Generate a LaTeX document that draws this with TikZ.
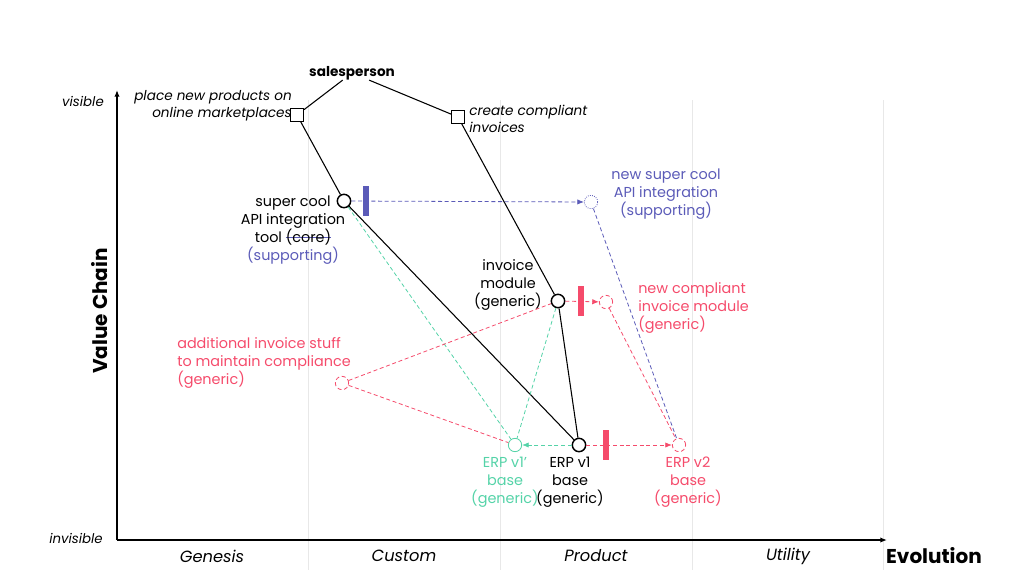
\documentclass[tikz,border=0pt]{standalone}
\usepackage{fontspec}
\setmainfont{Poppins}
\usetikzlibrary{arrows.meta}
\definecolor{supporting}{HTML}{5B5BB8}
\definecolor{generic}{HTML}{F54B6B}
\definecolor{erpgreen}{HTML}{55D3A8}
\definecolor{gridgray}{HTML}{E8E8E8}
\newlength{\strikelen}
\newcommand{\corestrike}[1]{\settowidth{\strikelen}{#1}\rlap{\textcolor{supporting}{\rule[0.55ex]{\strikelen}{0.7pt}}}#1}
\tikzset{
    component/.style = {circle, draw, line width=1.1pt, fill=white, minimum size=10pt, inner sep=0pt},
    ghost/.style = {circle, draw, line width=0.6pt, fill=white, minimum size=10pt, inner sep=0pt},
    need/.style = {rectangle, draw, line width=1pt, fill=white, minimum size=9.5pt, inner sep=0pt},
    label-text/.style = {font=\fontsize{10.8}{13.5}\selectfont, align=center, inner sep=0pt},
    need-text/.style = {font=\fontsize{10.2}{13}\selectfont\itshape, inner sep=0pt},
    axis-text/.style = {font=\fontsize{10}{13.5}\selectfont\itshape, inner sep=0pt},
    stage-text/.style = {font=\fontsize{12.2}{14}\selectfont\itshape, inner sep=0pt},
    axis-title/.style = {font=\fontsize{15}{17}\selectfont\bfseries, inner sep=0pt},
    inertia/.style = {rectangle, inner sep=0pt, minimum width=4.5pt, minimum height=22pt},
    link/.style = {line width=0.8pt},
    move/.style = {dash pattern=on 3pt off 2pt, line width=0.6pt},
    tip/.style = {-{Latex[length=5pt,width=4pt]}},
}

\begin{document}
\begin{tikzpicture}[x=0.75pt, y=-0.75pt]
\useasboundingbox (0,0) rectangle (1024,576);
% evolution stages
\foreach \x in {308,500,692,883}
    \draw[gridgray, line width=0.6pt] (\x,100) -- (\x,570);
\node[stage-text] (genesis) at (212,556) {Genesis};
\node[stage-text] (custom) at (404,556) {Custom};
\node[stage-text] (product) at (596,556) {Product};
\node[stage-text] (utility) at (788,556) {Utility};

% axes
\coordinate (origin) at (117,540);
\coordinate (top) at (117,90);
\coordinate (right) at (887,540);
\draw[line width=1pt, tip] (origin) -- (top);
\draw[line width=1pt, tip] (origin) -- (right);
\node[axis-title] (evolution) at (934,556) {Evolution};
\node[axis-title, rotate=90] (valuechain) at (100,311) {Value Chain};
\node[axis-text] (visible) at (83,101) {visible};
\node[axis-text] (invisible) at (76,538) {invisible};

% user and needs
\node[label-text, font=\fontsize{10.2}{13.5}\selectfont\bfseries] (sales) at (352,73) {salesperson};
\node[need] (place) at (297,115) {};
\node[need] (create) at (458,117) {};
\node[need-text, align=right, anchor=east] (placetext) at (292,106) {place new products on\\online marketplaces};
\node[need-text, align=left, anchor=west] (createtext) at (469,119) {create compliant\\invoices};

% components
\node[component] (api) at (344,201) {};
\node[component] (invoice) at (558,301) {};
\node[component] (erp) at (579,445) {};
\node[ghost, draw=erpgreen] (erpalt) at (515,445) {};
\node[ghost, draw=supporting, densely dotted] (apinew) at (591,202) {};
\node[ghost, draw=generic, densely dashed] (invnew) at (606,302) {};
\node[ghost, draw=generic, densely dashed] (extra) at (342,383) {};
\node[ghost, draw=generic, densely dashed] (erpnew) at (679,445) {};

\node[label-text] (apitext) at (293,230) {super cool\\API integration\\tool \corestrike{(core)}\\\textcolor{supporting}{(supporting)}};
\node[label-text, text=supporting] (apinewtext) at (666,194) {new super cool\\API integration\\(supporting)};
\node[label-text] (invoicetext) at (508,285) {invoice\\module\\(generic)};
\node[label-text, text=generic, align=left, anchor=west] (invnewtext) at (638,308) {new compliant\\invoice module\\(generic)};
\node[label-text, text=generic, align=left, anchor=west] (extratext) at (177,363) {additional invoice stuff\\to maintain compliance\\(generic)};
\node[label-text] (erptext) at (570,482) {ERP v1\\base\\(generic)};
\node[label-text, text=erpgreen] (erpalttext) at (505,482) {ERP v1’\\base\\(generic)};
\node[label-text, text=generic] (erpnewtext) at (688,482) {ERP v2\\base\\(generic)};

% value chain
\draw[link] (sales) -- (place);
\draw[link] (sales) -- (create);
\draw[link] (place) -- (api);
\draw[link] (create) -- (invoice);
\draw[link] (api) -- (erp);
\draw[link] (invoice) -- (erp);

% ERP v1' option
\draw[move, erpgreen] (api) -- (erpalt);
\draw[move, erpgreen] (invoice) -- (erpalt);
\draw[move, erpgreen, tip] (erp) -- (erpalt);

% ERP v2 option
\draw[move, generic, tip] (erp) -- (erpnew);
\draw[move, generic, tip] (invoice) -- (invnew);
\draw[move, generic] (extra) -- (invoice);
\draw[move, generic] (extra) -- (erpalt);
\draw[move, generic] (invnew) -- (erpnew);
\draw[move, supporting, tip] (api) -- (apinew);
\draw[move, supporting] (apinew) -- (erpnew);

% inertia
\node[inertia, fill=supporting] (apibar) at (366,201) {};
\node[inertia, fill=generic] (invoicebar) at (581,301) {};
\node[inertia, fill=generic] (erpbar) at (606,445) {};
\end{tikzpicture}
\end{document}
